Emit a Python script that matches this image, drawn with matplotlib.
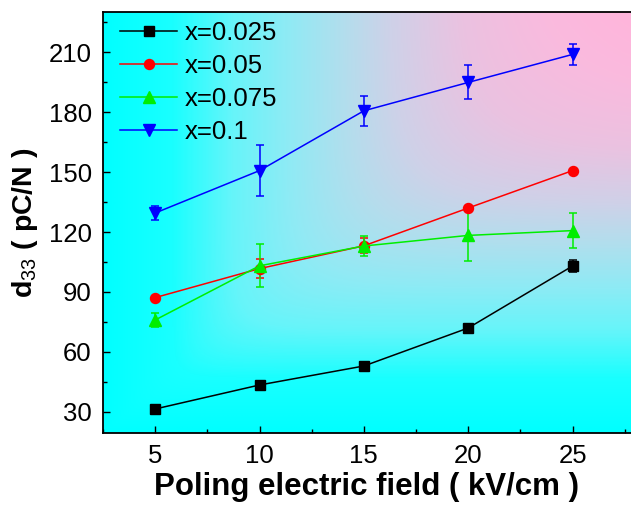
import numpy as np
import matplotlib
matplotlib.use("Agg")
import matplotlib.pyplot as plt
from matplotlib.colors import LinearSegmentedColormap
from matplotlib.ticker import MultipleLocator

plt.rcParams['font.family'] = ['Liberation Sans', 'DejaVu Sans']
plt.rcParams['mathtext.fontset'] = 'custom'
plt.rcParams['mathtext.rm'] = 'Liberation Sans'
plt.rcParams['mathtext.bf'] = 'Liberation Sans:bold'

field = [5, 10, 15, 20, 25]
labels = ['x=0.025', 'x=0.05', 'x=0.075', 'x=0.1']
d33_0025 = [31.5, 43.5, 53.0, 72.0, 103.0]
err_0025 = [0.0, 0.0, 0.0, 0.0, 3.2]
d33_005 = [87.2, 101.7, 113.1, 132.0, 150.7]
err_005 = [0.0, 4.6, 3.7, 1.0, 0.0]
d33_0075 = [76.0, 103.1, 113.0, 118.3, 120.7]
err_0075 = [3.5, 10.8, 5.2, 12.8, 8.9]
d33_01 = [129.5, 150.7, 180.6, 194.8, 208.8]
err_01 = [3.5, 12.6, 7.6, 8.5, 5.2]

series = [
    (d33_0025, err_0025, 'black', 's', 6.8),
    (d33_005, err_005, '#ff0000', 'o', 7.2),
    (d33_0075, err_0075, '#00ee00', '^', 8.2),
    (d33_01, err_01, '#0000ff', 'v', 8.2),
]

fig = plt.figure(figsize=(6.31, 5.05), dpi=100)
ax = fig.add_axes([0.1632, 0.1426, 0.8368, 0.8336])

xlim = (2.5, 27.8)
ylim = (19.5, 230)

# background gradient (soft-min of the fractions toward the top-right corner)
n = 400
gx = np.linspace(0.001, 1, n)
gy = np.linspace(0.001, 1, n)
GX, GY = np.meshgrid(gx, gy)
p = 5.0
T = (GX ** -p + GY ** -p) ** (-1.0 / p)
T = np.clip(T / T.max(), 0, 1)
cmap = LinearSegmentedColormap.from_list('bg', [
    (0.0, (0.0, 1.0, 1.0)),
    (0.15, (0.10, 1.0, 1.0)),
    (0.28, (0.40, 0.96, 0.98)),
    (0.4, (0.56, 0.92, 0.96)),
    (0.52, (0.70, 0.87, 0.93)),
    (0.62, (0.81, 0.82, 0.91)),
    (0.76, (0.92, 0.76, 0.88)),
    (0.9, (0.98, 0.73, 0.87)),
    (1.0, (1.0, 0.71, 0.86)),
])
ax.imshow(T, cmap=cmap, origin='lower', extent=[xlim[0], xlim[1], ylim[0], ylim[1]],
          aspect='auto', zorder=0, interpolation='bilinear', vmin=0, vmax=1)

handles = []
for (vals, errs, col, mk, ms), lab in zip(series, labels):
    c = ax.errorbar(field, vals, yerr=errs, color=col, marker=mk, markersize=ms,
                    linewidth=1.1, elinewidth=1.1, capsize=3, capthick=1.1,
                    label=lab, zorder=3)
    handles.append(c[0])

ax.set_xlim(*xlim)
ax.set_ylim(*ylim)
ax.set_xticks(field)
ax.set_yticks([30, 60, 90, 120, 150, 180, 210])
ax.xaxis.set_minor_locator(MultipleLocator(2.5))
ax.yaxis.set_minor_locator(MultipleLocator(15))
ax.tick_params(which='major', direction='in', length=5, width=1, labelsize=18.5,
               top=False, right=False, pad=8)
ax.tick_params(which='minor', direction='in', length=3, width=1, top=False, right=False)
for s in ['left', 'bottom', 'top']:
    ax.spines[s].set_linewidth(1.3)
ax.spines['right'].set_visible(False)

ax.set_xlabel('Poling electric field ( kV/cm )', fontsize=22.5, fontweight='bold', labelpad=3)
ax.set_ylabel(r'd$_{33}$ ( pC/N )', fontsize=20.5, fontweight='bold', labelpad=6)

leg = ax.legend(handles, labels, loc='upper left', frameon=False, fontsize=18.5,
                handlelength=2.2, handletextpad=0.3, labelspacing=0.34,
                borderaxespad=0.0, borderpad=0.2,
                bbox_to_anchor=(0.023, 0.99))

fig.savefig('out.png', dpi=100)
